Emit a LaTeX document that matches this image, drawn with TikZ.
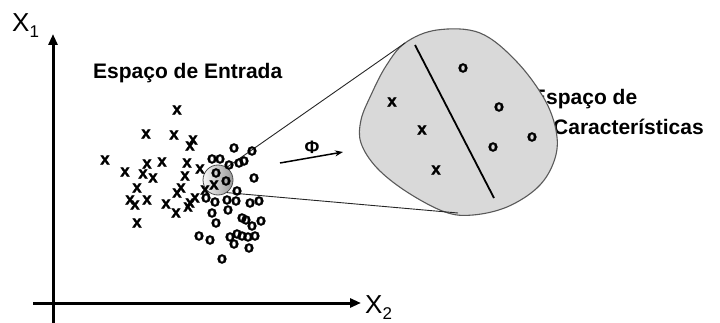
\documentclass[tikz,border=0pt]{standalone}
\usepackage{fontspec}
\setmainfont{Liberation Sans}
\newfontfamily\mkfont[FakeBold=2]{Liberation Sans Bold}
\usetikzlibrary{arrows.meta}
\begin{document}
\begin{tikzpicture}[x=1pt,y=-1pt,
  lbl/.style={font=\fontsize{21}{23}\selectfont\bfseries, inner sep=0pt},
  mk/.style={font=\fontsize{16.5}{17}\mkfont, inner sep=0pt},
  axis/.style={line width=3pt, -{Triangle[length=11pt,width=9pt]}},
  zoomline/.style={line width=0.9pt, black!85},
  blob/.style={draw=black!65, line width=1.1pt, fill=black!15},
  sep/.style={line width=1.8pt},
  phiarrow/.style={line width=1.5pt, -{Stealth[length=8pt,width=6pt]}}]
\useasboundingbox (0,0) rectangle (720,323);

% axes
\coordinate (ybot) at (53,323);
\coordinate (ytop) at (53,34);
\coordinate (xl) at (33,303);
\coordinate (xr) at (361,303);
\draw[axis] (ybot) -- (ytop);
\draw[axis] (xl) -- (xr);
\node[anchor=base west, inner sep=0pt] (x1) at (12,32) {\fontsize{26}{26}\selectfont X\raisebox{-6pt}{\fontsize{17}{17}\selectfont 1}};
\node[anchor=base west, inner sep=0pt] (x2) at (365,313) {\fontsize{26}{26}\selectfont X\raisebox{-6pt}{\fontsize{17}{17}\selectfont 2}};

% labels
\node[lbl, anchor=base west] (entrada) at (93,79) {Espaço de Entrada};
\node[lbl, anchor=base west] (carac1) at (532,105) {Espaço de};
\node[lbl, anchor=base west] (carac2) at (553,135) {Características};

% feature space blob
\coordinate (btl) at (405,43);
\coordinate (bbot) at (458,213);
\draw[blob] plot[smooth cycle, tension=0.6] coordinates {
  (405,43) (437,30) (480,33) (517,62) (546,102) (557,137) (553,164)
  (537,188) (507,207) (473,215) (445,212) (407,192) (377,168)
  (361,143) (361,120) (371,95) (386,66)};
\coordinate (s1) at (415,45);
\coordinate (s2) at (494,198);
\draw[sep] (s1) -- (s2);
\foreach \p [count=\i] in {(392,102),(422,130),(436,170)}
  \node[mk] (fx\i) at \p {x};
\foreach \p [count=\i] in {(463,68),(499,107),(493,147),(532,137)}
  \node[mk] (fo\i) at \p {o};

% magnifier
\node[circle, minimum size=30pt, inner sep=0pt, draw=black!70, line width=0.8pt,
      left color=black!3, right color=black!40] (magn) at (218,180) {};
\draw[zoomline] (magn.55) -- (btl);
\draw[zoomline] (magn.-55) -- (bbot);

% scatter x
\foreach \p [count=\i] in {(177,110),(146,134),(174,135),(193,140),(190,146),
  (105,160),(147,164),(162,162),(187,163),(200,169),(125,172),(143,174),
  (153,178),(185,176),(137,188),(130,200),(135,205),(147,200),(166,204),
  (176,213),(177,193),(181,188),(137,223),(214,185),(205,190),(195,198),
  (190,203),(188,207)}
  \node[mk] (sx\i) at \p {x};

% scatter o
\foreach \p [count=\i] in {(234,148),(252,151),(212,159),(220,159),(229,165),
  (239,163),(244,161),(216,173),(226,181),(254,178),(237,191),(206,198),
  (215,202),(227,200),(236,201),(250,203),(259,201),(212,213),(228,210),
  (242,218),(246,220),(252,226),(261,221),(216,223),(199,236),(210,240),
  (230,237),(237,234),(242,236),(248,237),(255,236),(234,244),(249,248),
  (222,259)}
  \node[mk] (so\i) at \p {o};

% phi map
\coordinate (pa) at (280,163);
\coordinate (pb) at (343,152);
\draw[phiarrow] (pa) -- (pb);
\node[inner sep=0pt, font=\fontsize{18}{18}\selectfont\bfseries] (phi) at (312,147) {Φ};
\end{tikzpicture}
\end{document}
